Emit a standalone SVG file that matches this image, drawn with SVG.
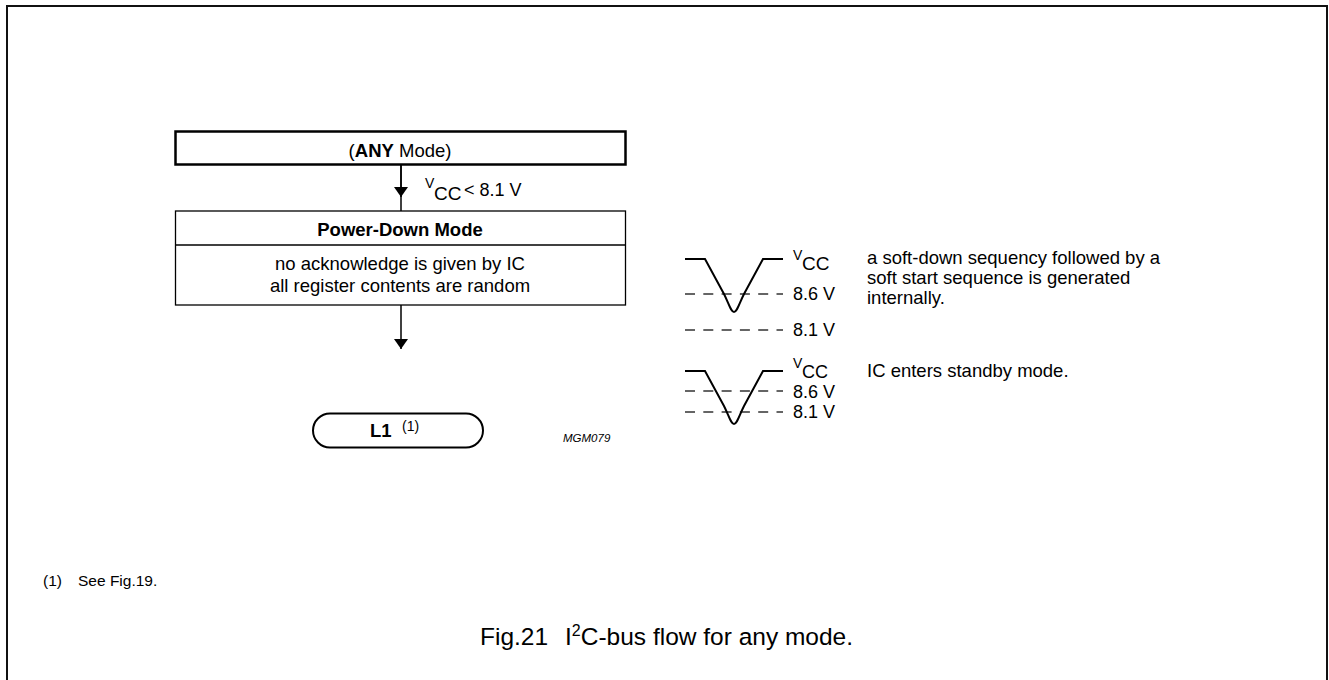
<svg xmlns="http://www.w3.org/2000/svg" width="1329" height="680" viewBox="0 0 1329 680">
<style>
text{font-family:"Liberation Sans",Arial,sans-serif;fill:#000}
.b{font-size:18.5px}
.bold{font-weight:bold}
.v{font-size:14px}
.cc{font-size:19px}
.lv{font-size:18px}
.wave{fill:none;stroke:#000;stroke-width:2}
.dash{fill:none;stroke:#333;stroke-width:1.3;stroke-dasharray:10 8.3}
.line{fill:none;stroke:#000;stroke-width:1.5}
</style>
<defs>
<marker id="ah" viewBox="0 0 10 14" refX="10" refY="7" markerWidth="10" markerHeight="14" markerUnits="userSpaceOnUse" orient="auto">
<path d="M0,0 L10,7 L0,14 Z" fill="#000"/>
</marker>
</defs>
<rect width="1329" height="680" fill="#fff"/>
<path d="M7,682 V6 H1327 V682" fill="none" stroke="#111" stroke-width="2"/>

<g id="any-mode">
<rect x="175.5" y="131.5" width="450" height="33" fill="#fff" stroke="#000" stroke-width="2.5"/>
<text class="b" x="400" y="157" text-anchor="middle">(<tspan class="bold">ANY</tspan> Mode)</text>
</g>

<g id="power-down">
<rect x="175.5" y="211" width="450" height="94" fill="#fff" stroke="#000" stroke-width="1.3"/>
<line x1="175.5" y1="245" x2="625.5" y2="245" stroke="#000" stroke-width="1.3"/>
<text class="b bold" x="400" y="236" text-anchor="middle">Power-Down Mode</text>
<text class="b" x="400" y="270" text-anchor="middle">no acknowledge is given by IC</text>
<text class="b" x="400" y="292" text-anchor="middle">all register contents are random</text>
</g>

<g id="l1">
<rect x="313" y="413.5" width="170" height="34" rx="17" ry="17" fill="#fff" stroke="#000" stroke-width="2"/>
<text class="b bold" x="370" y="437">L1</text>
<text x="402" y="431" style="font-size:14px">(1)</text>
</g>

<g id="connectors">
<line class="line" x1="401" y1="165" x2="401" y2="211"/>
<line class="line" x1="401" y1="165" x2="401" y2="197" marker-end="url(#ah)"/>
<line class="line" x1="401" y1="305" x2="401" y2="349" marker-end="url(#ah)"/>
</g>

<g id="vcc-label">
<text class="v" x="425" y="188">V</text>
<text class="cc" x="434" y="200">CC</text>
<text class="lv" x="464" y="196">&lt; 8.1 V</text>
</g>

<g id="waveform-1">
<path class="dash" d="M685,294 H783"/>
<path class="dash" d="M685,330 H783"/>
<path class="wave" d="M685,259 H705 L724,294 C729,304 731,312 734,312 C737,312 739,304 744,294 L763,259 H783"/>
<text class="v" x="793" y="260">V</text>
<text class="cc" x="802" y="270">CC</text>
<text class="lv" x="793" y="300">8.6 V</text>
<text class="lv" x="793" y="336">8.1 V</text>
<text class="b" x="867" y="264">a soft-down sequency followed by a</text>
<text class="b" x="867" y="284">soft start sequence is generated</text>
<text class="b" x="867" y="304">internally.</text>
</g>

<g id="waveform-2">
<path class="dash" d="M685,391 H783"/>
<path class="dash" d="M685,412 H783"/>
<path class="wave" d="M685,371 H705 L724,406 C729,416 731,424 734,424 C737,424 739,416 744,406 L763,371 H783"/>
<text class="v" x="793" y="368">V</text>
<text x="802" y="378" style="font-size:18px">CC</text>
<text class="lv" x="793" y="398">8.6 V</text>
<text class="lv" x="793" y="418">8.1 V</text>
<text class="b" x="867" y="377">IC enters standby mode.</text>
</g>

<text x="563" y="442" style="font-size:11.5px;font-style:italic">MGM079</text>
<text x="43" y="586" style="font-size:15.5px">(1)<tspan x="78">See Fig.19.</tspan></text>
<text x="480" y="645" style="font-size:24.5px">Fig.21<tspan x="565">I</tspan><tspan dy="-9" style="font-size:16px">2</tspan><tspan dy="9">C-bus flow for any mode.</tspan></text>
</svg>
